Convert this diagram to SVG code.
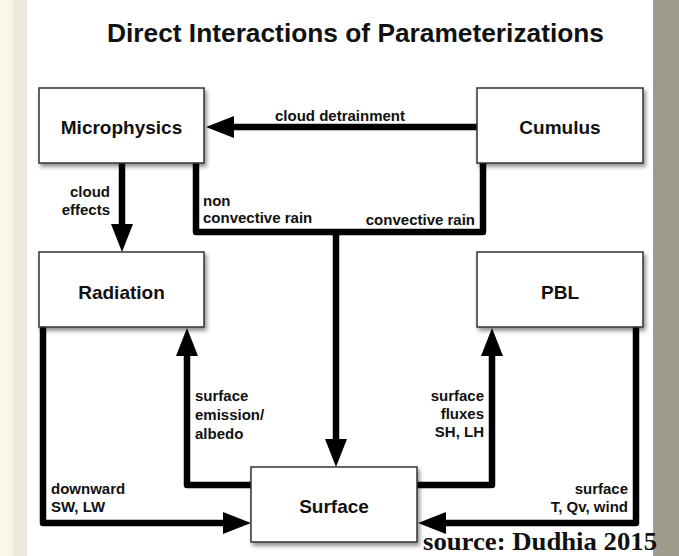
<svg xmlns="http://www.w3.org/2000/svg" width="679" height="556" viewBox="0 0 679 556">
<defs>
<linearGradient id="lstrip" x1="0" y1="0" x2="1" y2="0">
<stop offset="0" stop-color="#fcf8ec"/>
<stop offset="0.45" stop-color="#f8f4e6"/>
<stop offset="0.5" stop-color="#efebdc"/>
<stop offset="1" stop-color="#ebe7d8"/>
</linearGradient>
<filter id="shadow" x="-10%" y="-10%" width="125%" height="135%">
<feDropShadow dx="2" dy="3" stdDeviation="2" flood-color="#000" flood-opacity="0.45"/>
</filter>
<marker id="arrow" markerUnits="userSpaceOnUse" markerWidth="28" markerHeight="22" refX="0" refY="11" orient="auto">
<path d="M0,0 L28,11 L0,22 z" fill="#000"/>
</marker>
<style>
.box{fill:#fff;stroke:#333;stroke-width:1.5;filter:url(#shadow)}
.name{font-family:"Liberation Sans",Arial,sans-serif;font-weight:bold;font-size:19px;fill:#111;text-anchor:middle}
.lbl{font-family:"Liberation Sans",Arial,sans-serif;font-weight:bold;font-size:15px;fill:#111}
.end{text-anchor:end}
.mid{text-anchor:middle}
.conn{fill:none;stroke:#000;stroke-width:6.5;stroke-linejoin:round}
</style>
</defs>
<rect x="0" y="0" width="679" height="556" fill="#fff"/>
<rect x="0" y="0" width="27" height="556" fill="url(#lstrip)"/>
<rect x="653" y="0" width="26" height="556" fill="#a09c8d"/>
<text x="107" y="42" font-family="Liberation Sans, Arial, sans-serif" font-weight="bold" font-size="26" fill="#111" textLength="497" lengthAdjust="spacingAndGlyphs">Direct Interactions of Parameterizations</text>
<g id="connectors">
<path class="conn" d="M477,127 H234" marker-end="url(#arrow)"/>
<path class="conn" d="M122,163 V224" marker-end="url(#arrow)"/>
<path class="conn" d="M196,163 V232 H483 V163"/>
<path class="conn" d="M336,232 V439" marker-end="url(#arrow)"/>
<path class="conn" d="M251,485 H187 V356" marker-end="url(#arrow)"/>
<path class="conn" d="M43,327 V523 H223" marker-end="url(#arrow)"/>
<path class="conn" d="M417,485 H492 V356" marker-end="url(#arrow)"/>
<path class="conn" d="M636,327 V523 H446" marker-end="url(#arrow)"/>
<text class="lbl mid" x="340" y="121">cloud detrainment</text>
<text class="lbl end" x="110" y="197">cloud</text>
<text class="lbl end" x="110" y="215">effects</text>
<text class="lbl" x="203" y="206">non</text>
<text class="lbl" x="203" y="223">convective rain</text>
<text class="lbl end" x="475" y="225">convective rain</text>
<text class="lbl" x="195" y="401">surface</text>
<text class="lbl" x="195" y="420">emission/</text>
<text class="lbl" x="195" y="439">albedo</text>
<text class="lbl end" x="484" y="401">surface</text>
<text class="lbl end" x="484" y="419">fluxes</text>
<text class="lbl end" x="484" y="437">SH, LH</text>
<text class="lbl" x="51" y="494">downward</text>
<text class="lbl" x="51" y="512">SW, LW</text>
<text class="lbl end" x="628" y="494">surface</text>
<text class="lbl end" x="628" y="512">T, Qv, wind</text>
</g>
<g id="microphysics">
<rect class="box" x="39" y="88" width="165" height="75"/>
<text class="name" x="121.5" y="134">Microphysics</text>
</g>
<g id="cumulus">
<rect class="box" x="477" y="88" width="166" height="75"/>
<text class="name" x="560" y="134">Cumulus</text>
</g>
<g id="radiation">
<rect class="box" x="39" y="252" width="165" height="75"/>
<text class="name" x="121.5" y="299">Radiation</text>
</g>
<g id="pbl">
<rect class="box" x="477" y="252" width="166" height="75"/>
<text class="name" x="560" y="299">PBL</text>
</g>
<g id="surface">
<rect class="box" x="251" y="467" width="166" height="75"/>
<text class="name" x="334" y="513">Surface</text>
</g>
<text x="423" y="550" font-family="Liberation Serif, 'Times New Roman', serif" font-weight="bold" font-size="26" fill="#111" textLength="234" lengthAdjust="spacingAndGlyphs">source: Dudhia 2015</text>
</svg>
